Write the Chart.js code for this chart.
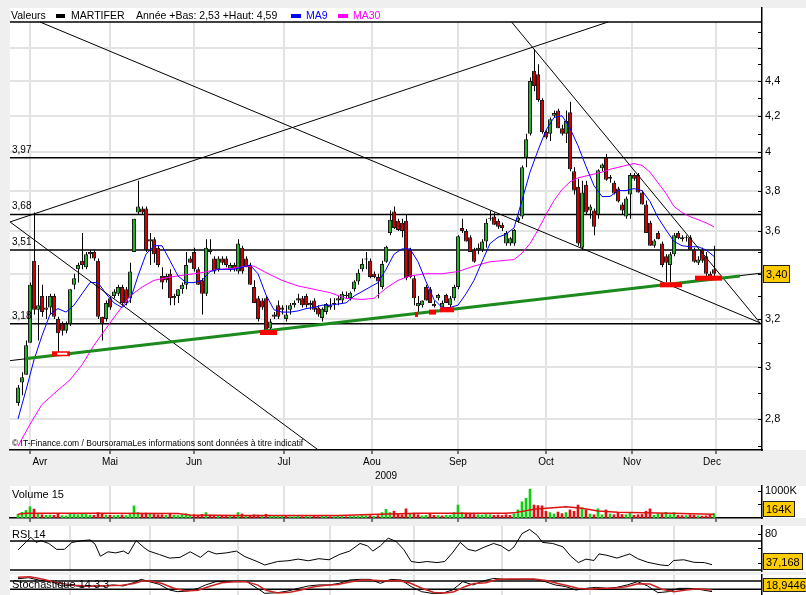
<!DOCTYPE html>
<html>
<head>
<meta charset="utf-8">
<script src="https://cdn.jsdelivr.net/npm/chart.js@4.4.1/dist/chart.umd.min.js"></script>
<style>
  html, body { margin: 0; padding: 0; background: #efefef; width: 806px; height: 595px; overflow: hidden; }
  canvas { position: absolute; left: 0; }
</style>
</head>
<body>
<canvas id="main" width="806" height="484" style="top:0px"></canvas>
<canvas id="vol" width="806" height="38" style="top:484px"></canvas>
<canvas id="rsi" width="806" height="50" style="top:522px"></canvas>
<canvas id="sto" width="806" height="24" style="top:572px"></canvas>
<script>
// --- données (séance i = jour de bourse depuis le 14 avril 2009) ---
const opens = [2.86,2.94,2.97,3.10,3.46,3.24,3.30,3.24,3.25,3.30,
  3.20,3.18,3.15,3.18,3.35,3.42,3.46,3.43,3.50,3.50,
  3.46,3.21,3.20,3.29,3.30,3.31,3.34,3.33,3.29,3.50,
  3.69,3.71,3.71,3.55,3.56,3.52,3.39,3.39,3.40,3.29,
  3.30,3.33,3.35,3.47,3.50,3.42,3.37,3.31,3.51,3.47,
  3.42,3.47,3.47,3.42,3.44,3.41,3.52,3.47,3.44,3.34,
  3.29,3.28,3.29,3.16,3.22,3.26,3.25,3.20,3.24,3.26,
  3.29,3.29,3.30,3.26,3.28,3.25,3.205,3.23,3.25,3.27,
  3.28,3.28,3.30,3.29,3.33,3.365,3.42,3.465,3.46,3.40,
  3.385,3.34,3.455,3.59,3.695,3.65,3.64,3.65,3.51,3.38,
  3.255,3.26,3.34,3.33,3.265,3.29,3.25,3.305,3.26,3.29,
  3.34,3.615,3.60,3.57,3.51,3.51,3.51,3.55,3.665,3.67,
  3.65,3.63,3.54,3.54,3.54,3.65,3.67,3.97,4.10,4.46,
  4.44,4.29,4.11,4.10,4.20,4.23,4.13,4.10,4.22,3.90,
  3.82,3.52,3.83,3.70,3.70,3.68,3.915,3.97,3.87,3.84,
  3.81,3.73,3.67,3.78,3.88,3.88,3.79,3.73,3.64,3.53,
  3.59,3.54,3.48,3.44,3.49,3.59,3.57,3.57,3.57,3.51,
  3.45,3.51,3.48,3.40,3.42];
const highs = [2.93,2.98,3.11,3.36,3.69,3.44,3.35,3.30,3.31,3.31,
  3.21,3.19,3.19,3.33,3.40,3.45,3.59,3.50,3.51,3.51,
  3.47,3.21,3.28,3.30,3.33,3.35,3.35,3.34,3.45,3.66,
  3.85,3.72,3.72,3.59,3.57,3.53,3.43,3.40,3.42,3.31,
  3.33,3.36,3.50,3.48,3.52,3.43,3.38,3.56,3.56,3.48,
  3.48,3.48,3.48,3.45,3.45,3.56,3.53,3.48,3.45,3.37,
  3.30,3.29,3.30,3.20,3.23,3.28,3.26,3.26,3.27,3.28,
  3.31,3.30,3.31,3.28,3.29,3.26,3.25,3.27,3.29,3.29,
  3.30,3.32,3.32,3.32,3.37,3.42,3.47,3.50,3.47,3.41,
  3.40,3.46,3.53,3.70,3.72,3.66,3.66,3.68,3.52,3.39,
  3.30,3.28,3.35,3.34,3.28,3.31,3.28,3.31,3.30,3.35,
  3.58,3.66,3.61,3.58,3.52,3.54,3.56,3.66,3.70,3.69,
  3.66,3.64,3.60,3.57,3.61,3.67,3.93,4.10,4.42,4.59,
  4.50,4.30,4.12,4.19,4.23,4.24,4.15,4.23,4.28,3.92,
  3.86,3.85,3.85,3.73,3.71,3.91,3.94,3.99,3.88,3.85,
  3.82,3.74,3.77,3.89,3.89,3.89,3.80,3.75,3.65,3.56,
  3.60,3.55,3.49,3.50,3.59,3.60,3.58,3.58,3.58,3.52,
  3.48,3.52,3.50,3.41,3.53];
const lows = [2.85,2.89,2.97,3.10,3.22,3.11,3.21,3.20,3.22,3.20,
  3.06,3.13,3.14,3.17,3.33,3.36,3.42,3.42,3.47,3.46,
  3.20,3.11,3.19,3.24,3.29,3.30,3.26,3.26,3.27,3.50,
  3.68,3.68,3.50,3.44,3.45,3.43,3.33,3.36,3.26,3.26,
  3.27,3.31,3.33,3.45,3.41,3.35,3.22,3.30,3.49,3.40,
  3.41,3.44,3.43,3.41,3.41,3.40,3.40,3.43,3.35,3.27,
  3.19,3.24,3.14,3.15,3.20,3.20,3.22,3.19,3.22,3.25,
  3.27,3.25,3.25,3.24,3.23,3.21,3.19,3.22,3.24,3.24,
  3.26,3.27,3.29,3.28,3.32,3.35,3.41,3.42,3.38,3.38,
  3.29,3.33,3.45,3.58,3.61,3.60,3.57,3.37,3.38,3.26,
  3.225,3.25,3.28,3.27,3.25,3.28,3.24,3.27,3.25,3.28,
  3.33,3.59,3.55,3.50,3.45,3.49,3.50,3.52,3.65,3.63,
  3.61,3.60,3.53,3.53,3.53,3.64,3.66,3.92,4.09,4.34,
  4.28,4.10,4.07,4.06,4.19,4.13,4.09,4.05,3.90,3.78,
  3.53,3.51,3.68,3.66,3.58,3.66,3.90,3.85,3.84,3.78,
  3.74,3.68,3.66,3.66,3.85,3.79,3.73,3.59,3.53,3.52,
  3.56,3.43,3.36,3.36,3.48,3.56,3.55,3.55,3.51,3.45,
  3.44,3.45,3.39,3.38,3.39];
const closes = [2.92,2.96,3.09,3.35,3.24,3.26,3.23,3.25,3.30,3.21,
  3.14,3.15,3.18,3.33,3.38,3.44,3.44,3.49,3.49,3.47,
  3.21,3.18,3.27,3.25,3.32,3.34,3.27,3.27,3.41,3.66,
  3.72,3.69,3.51,3.56,3.49,3.44,3.36,3.37,3.29,3.30,
  3.33,3.35,3.44,3.45,3.42,3.35,3.31,3.52,3.50,3.41,
  3.47,3.45,3.44,3.44,3.42,3.54,3.41,3.43,3.35,3.27,
  3.20,3.25,3.15,3.19,3.21,3.21,3.24,3.22,3.26,3.27,
  3.28,3.26,3.26,3.27,3.24,3.22,3.245,3.265,3.26,3.265,
  3.29,3.31,3.305,3.315,3.365,3.405,3.445,3.47,3.385,3.385,
  3.365,3.445,3.525,3.655,3.615,3.605,3.60,3.38,3.385,3.29,
  3.27,3.28,3.28,3.27,3.255,3.305,3.27,3.27,3.29,3.34,
  3.575,3.60,3.55,3.50,3.455,3.52,3.55,3.64,3.66,3.63,
  3.62,3.615,3.59,3.565,3.605,3.665,3.92,4.07,4.40,4.37,
  4.29,4.11,4.08,4.18,4.215,4.13,4.10,4.17,3.91,3.80,
  3.54,3.79,3.69,3.72,3.62,3.905,3.935,3.855,3.86,3.785,
  3.745,3.70,3.76,3.88,3.86,3.79,3.73,3.59,3.53,3.555,
  3.56,3.44,3.45,3.49,3.58,3.565,3.56,3.565,3.51,3.455,
  3.465,3.46,3.40,3.385,3.40];

const ma9Idx = [0,2,4,6,8,10,12,14,16,18,20,22,24,26,28,30,32,34,36,38,40,42,44,46,48,50,52,54,56,58,60,62,64,66,68,70,72,74,76,78,80,82,84,86,88,90,92,94,96,98,100,102,104,106,108,110,112,114,116,118,120,122,124,126,128,130,132,134,136,138,140,142,144,146,148,150,152,154,156,158,160,162,164,166,168,170,172,174];
const ma9Val = [2.80,2.91,3.03,3.13,3.22,3.245,3.23,3.26,3.31,3.36,3.36,3.31,3.27,3.25,3.28,3.39,3.49,3.53,3.53,3.46,3.39,3.36,3.36,3.37,3.41,3.42,3.42,3.42,3.43,3.44,3.40,3.305,3.24,3.23,3.23,3.235,3.245,3.25,3.26,3.26,3.265,3.27,3.30,3.32,3.34,3.36,3.42,3.49,3.515,3.515,3.455,3.365,3.285,3.25,3.25,3.26,3.31,3.37,3.455,3.54,3.57,3.585,3.615,3.75,3.895,4.01,4.12,4.19,4.20,4.13,4.035,3.925,3.825,3.77,3.77,3.80,3.80,3.81,3.80,3.745,3.665,3.605,3.55,3.53,3.525,3.525,3.51,3.48];
const ma30Idx = [0,3,6,10,13,16,19,22,25,28,31,34,38,42,46,50,54,57,59,62,66,70,74,78,82,86,89,92,95,98,102,106,110,114,118,121,124,126,128,130,132,134,136,138,140,142,144,146,148,150,152,154,156,158,160,162,164,166,168,170,172,174];
const ma30Val = [2.70,2.78,2.855,2.91,2.95,3.01,3.09,3.16,3.23,3.30,3.34,3.37,3.385,3.395,3.405,3.42,3.425,3.435,3.435,3.405,3.37,3.345,3.33,3.315,3.29,3.285,3.29,3.335,3.37,3.39,3.40,3.40,3.41,3.435,3.455,3.46,3.465,3.495,3.54,3.605,3.68,3.75,3.805,3.845,3.865,3.875,3.885,3.895,3.91,3.92,3.93,3.94,3.93,3.895,3.84,3.785,3.72,3.69,3.67,3.655,3.64,3.62];

const levels = [3.97, 3.68, 3.51, 3.18];
// droites tracées : [séance début, cours début, séance fin, cours fin]
const trendLines = [
  [5.5, 4.761, 185.5, 3.184],
  [-2, 3.644, 147.5, 4.761],
  [-2, 3.644, 75, 2.687],
  [123.4, 4.761, 185.5, 3.184],
  [-2, 3.027, 186, 3.403]
];
const supportLine = [1.75, 3.035, 180.5, 3.39];
// plus bas marqués : [séance début, séance fin, cours]
const swingLows = [[8.5, 13, 3.055], [60.5, 64.75, 3.143], [99.25, 100, 3.22], [102.75, 104.5, 3.23], [105.5, 109, 3.24], [160.5, 166, 3.35], [169.25, 176, 3.38]];

const volumes = [140,210,280,420,330,150,120,100,110,100,
  140,90,80,150,130,120,150,130,110,100,
  200,150,110,100,90,100,110,90,130,450,
  200,160,180,150,130,120,120,100,150,100,
  90,110,160,110,120,100,130,200,110,100,
  90,80,80,90,70,200,150,90,100,120,
  110,80,140,90,60,70,60,60,50,50,
  60,50,60,50,60,50,80,60,50,50,
  60,60,50,60,70,60,90,80,90,60,
  90,200,320,200,250,150,120,340,150,180,
  120,80,100,150,100,90,80,100,100,200,
  480,200,180,150,130,120,110,130,120,100,
  110,90,120,100,150,300,600,730,1070,480,
  460,450,250,200,150,220,160,200,300,250,
  480,380,300,150,120,340,120,300,150,120,
  180,130,120,200,100,120,130,250,340,100,
  160,150,210,120,200,100,90,90,120,100,
  80,70,80,120,164];
const volMaIdx = [0,2,20,40,43,55,80,90,100,122,124,129,137,141,145,150,163,174];
const volMaVal = [137,174,174,170,111,90,95,137,174,174,190,320,418,360,260,210,174,137];

const rsiIdx = [0,1.9,3.2,4.5,5.75,7.7,9.65,11.6,13.5,16.1,18,19.25,20.6,22.5,24.4,26.35,27.6,29.55,31.5,32.75,35.35,37.9,40.5,43.05,45.6,47.55,49.5,52.05,54.6,56.55,59.75,61.7,64.9,67.5,70.05,72.6,75.2,77.75,80.3,82.9,85.5,87.4,88.7,90.6,92.55,94.5,96.4,98.3,100.25,102.2,104.75,106.7,108.6,110.55,112.5,114.4,116.3,118.9,120.8,122.75,124,126,127.9,129.8,131.1,133.7,136.25,138.2,140.1,142,144,145.25,147.2,149.75,152.95,154.9,157.45,160.7,162.6,163.9,166.45,169,171.6,173.5];
const rsiVal = [57.4,68.0,75.2,68.0,70.4,66.5,58.4,58.4,68.0,70.4,71.4,65.7,48.8,55.0,53.5,56.0,52.1,70.4,60.8,56.0,51.2,46.3,47.3,55.0,47.3,56.0,52.1,53.5,56.0,48.8,41.6,36.8,41.6,42.6,44.9,42.6,45.5,44.0,51.2,56.0,66.5,63.2,56.0,63.2,73.8,69.4,58.4,41.6,40.1,41.6,40.1,41.6,53.5,68.0,58.4,56.0,60.8,66.5,63.2,56.0,61.8,80.1,85.9,77.7,68.0,66.5,61.8,48.8,40.1,44.9,43.0,52.1,50.2,46.3,52.1,45.5,40.5,36.8,35.8,43.0,44.0,40.5,40.1,37.168];
const rsiLevels = [70, 30];

const stoKIdx = [0,2.6,5.1,8.4,10.9,13.5,16,18.6,21.2,23.8,26.3,28.9,30.8,32.8,35.3,37.9,39.8,42.4,45,46.9,49.5,52,54.6,57.2,59.8,61.7,64.9,67.5,70,72.6,75.2,77.8,80.3,82.9,85.5,88,90.6,93.2,95.8,98.3,100.9,103.5,106,108.6,111.2,113.8,116.3,118.9,121.5,124,126.6,129.2,131.8,134.3,136.9,139.5,142,144.6,147.2,149.7,152.3,154.9,157.4,160,162.6,165.2,167.7,170.3,173.5];
const stoKVal = [81,86,75,67,46,49,43,46,46,51,46,62,78,67,54,26.5,18.5,21.7,34.5,51,67,67,67,67,34.5,10.4,13.6,21.7,34.5,46,51,51,58.6,75,78,78,58.6,78,75,43,18.5,10.4,10.4,26.5,67,51,70,82.7,78,78,78,78,67,51,43,26.5,34.5,39.4,34.5,39.4,51,67,46,13.6,18.5,34.5,34.5,29.7,18.9446];
const stoDIdx = [0,3,6,10,14,18,22,26,29,31,33,36,39,42,45,48,51,54,57,60,62,65,68,71,74,77,80,83,86,89,92,95,98,101,104,107,109,112,114,117,120,123,126,129,132,135,138,140,143,146,149,152,155,158,161,164,167,170,173.5];
const stoDVal = [88,90,80,60,50,45,47,50,58,70,70,58,35,22,25,45,62,67,67,50,25,12,16,28,42,50,53,65,75,74,70,72,60,35,15,12,18,45,58,62,78,80,80,80,72,58,45,35,30,35,35,42,57,55,30,18,26,32,27];
const stoLevels = [70, 30];

const priceTicks = [2.7,2.8,2.9,3,3.1,3.2,3.3,3.4,3.5,3.6,3.7,3.8,3.9,4,4.1,4.2,4.3,4.4,4.5,4.6,4.7];
const priceLabels = [2.8,3,3.2,3.4,3.6,3.8,4,4.2,4.4];
const priceGrid = [2.8,3,3.2,3.4,3.6,3.8,4,4.2,4.4,4.6];
const volTicks = [500, 1000];
const rsiTicks = [40, 60, 80];

const monthStarts = [13, 33, 55, 78, 99, 121, 143, 164];
const monthNames = ['Avr','Mai','Jun','Jul','Aou','Sep','Oct','Nov','Dec'];
const monthEdges = [-2, ...monthStarts, 183];

// --- mise en forme ---
const FONT = "'Liberation Sans', Arial, sans-serif";
const GRID = '#e3e3e3';
const UP = '#25b025', DOWN = '#d00000';
const X_MIN = -2, X_MAX = 186;
Chart.defaults.font.family = FONT;
Chart.defaults.color = '#000';

const near = (arr, v) => arr.some((p) => Math.abs(p - v) < 1e-6);
const comma = (v, d) => v.toFixed(d).replace('.', ',');
const pts = (xs, ys) => xs.map((x, i) => ({ x, y: ys[i] }));
const seg = (x1, y1, x2, y2) => [{ x: x1, y: y1 }, { x: x2, y: y2 }];
const isUp = closes.map((c, i) => c >= opens[i]);

function lineDs(data, color, width, order, extra) {
  return Object.assign({ type: 'line', data, borderColor: color, borderWidth: width,
    pointRadius: 0, fill: false, order }, extra || {});
}

function noPad(s) {
  s.paddingTop = 0; s.paddingBottom = 0; s.paddingLeft = 0; s.paddingRight = 0;
}

function monthAxis(height, border) {
  return {
    type: 'linear', min: X_MIN, max: X_MAX, offset: false, position: 'bottom',
    afterBuildTicks: (s) => { s.ticks = monthStarts.map((v) => ({ value: v })); },
    ticks: { display: false },
    grid: { color: GRID, lineWidth: 2, drawTicks: height > 0, tickLength: 4, tickColor: '#000', tickWidth: 1 },
    border: { display: border, color: '#000', width: 1.5 },
    afterFit: (s) => { s.height = height; noPad(s); }
  };
}

function rightAxis(extra) {
  return Object.assign({
    position: 'right',
    ticks: { padding: 3, autoSkip: false, font: { size: 11 }, color: '#000' },
    grid: { display: false, drawTicks: false },
    border: { display: true, color: '#000', width: 1.5 },
    afterFit: (s) => { s.width = 44; noPad(s); }
  }, extra);
}

function drawBox(ctx, x, cy, text, h) {
  ctx.font = '11px ' + FONT;
  const w = Math.round(ctx.measureText(text).width + 6);
  const top = Math.round(cy - h / 2);
  ctx.fillStyle = '#ffcc00';
  ctx.fillRect(x, top, w, h);
  ctx.strokeStyle = '#222';
  ctx.lineWidth = 1;
  ctx.strokeRect(x + 0.5, top + 0.5, w - 1, h - 1);
  ctx.fillStyle = '#000';
  ctx.textAlign = 'left';
  ctx.textBaseline = 'middle';
  ctx.fillText(text, x + 3, top + h / 2 + 1);
}

// fond gris, bande blanche (zone + colonne d'échelle), graduations rentrantes, étiquette et cartouche
const panel = {
  id: 'panel',
  beforeDraw(chart, args, o) {
    const { ctx, chartArea: a } = chart;
    ctx.save();
    ctx.fillStyle = '#efefef';
    ctx.fillRect(0, 0, chart.width, chart.height);
    ctx.fillStyle = '#fff';
    ctx.fillRect(a.left, a.top, chart.width - a.left, a.bottom - a.top);
    ctx.restore();
  },
  afterDraw(chart, args, o) {
    const { ctx, chartArea: a } = chart;
    const s = chart.scales.y;
    ctx.save();
    ctx.strokeStyle = '#000';
    ctx.lineWidth = 1;
    for (const t of s.ticks) {
      const y = Math.round(s.getPixelForValue(t.value)) + 0.5;
      if (y < a.top + (o.skipTop || 0)) continue;
      ctx.beginPath(); ctx.moveTo(a.right - 4, y); ctx.lineTo(a.right, y); ctx.stroke();
    }
    if (o.title) {
      ctx.font = '11px ' + FONT;
      ctx.fillStyle = '#000';
      ctx.textAlign = 'left';
      ctx.textBaseline = 'middle';
      ctx.fillText(o.title, a.left + 2, a.top + o.titleDy);
    }
    if (o.box) {
      const h = o.box.h;
      let cy = s.getPixelForValue(o.box.value);
      cy = Math.max(a.top + h / 2 + 1, Math.min(a.bottom - h / 2 - o.box.gap, cy));
      drawBox(ctx, a.right + 1, cy, o.box.text, h);
    }
    ctx.restore();
  }
};

// en-tête, niveaux et mention du graphique principal
const mainDeco = {
  id: 'mainDeco',
  beforeDatasetsDraw(chart) {
    const { ctx, chartArea: a } = chart;
    ctx.save();
    ctx.fillStyle = '#fff';
    ctx.fillRect(a.left, a.top, a.right - a.left - 1, 14);
    ctx.restore();
  },
  afterDraw(chart) {
    const { ctx, chartArea: a } = chart;
    const y = chart.scales.y;
    ctx.save();
    ctx.strokeStyle = '#000';
    ctx.lineWidth = 1.5;
    ctx.beginPath(); ctx.moveTo(a.left, a.top + 14); ctx.lineTo(a.right, a.top + 14); ctx.stroke();
    ctx.font = '10.5px ' + FONT;
    ctx.textBaseline = 'middle';
    ctx.textAlign = 'left';
    const ty = a.top + 8;
    ctx.fillStyle = '#000';
    ctx.fillText('Valeurs', 11, ty);
    ctx.fillRect(56, ty - 2, 9, 4);
    ctx.fillText('MARTIFER', 71, ty);
    ctx.fillText('Année +Bas: 2,53 +Haut: 4,59', 136, ty);
    ctx.fillStyle = '#0000ff';
    ctx.fillRect(291, ty - 2, 10, 4);
    ctx.fillText('MA9', 306, ty);
    ctx.fillStyle = '#ff00ff';
    ctx.fillRect(338, ty - 2, 10, 4);
    ctx.fillText('MA30', 353, ty);
    ctx.fillStyle = '#000';
    ctx.font = '10px ' + FONT;
    for (const l of levels) ctx.fillText(comma(l, 2), 12, y.getPixelForValue(l) - 8);
    ctx.font = '8.5px ' + FONT;
    ctx.fillText('\u00a9 IT-Finance.com / BoursoramaLes informations sont données à titre indicatif', 12, a.bottom - 6, 327);
    drawBox(ctx, a.right + 1, y.getPixelForValue(closes[closes.length - 1]), comma(closes[closes.length - 1], 2), 18);
    ctx.restore();
  }
};

const baseOpts = {
  responsive: false, animation: false, events: [],
  plugins: { legend: { display: false }, tooltip: { enabled: false } }
};

// --- graphique des cours ---
new Chart(document.getElementById('main'), {
  type: 'bar',
  data: {
    datasets: [
      ...swingLows.map((s) => lineDs(seg(s[0], s[2], s[1], s[2]), '#ff0000', 5, 0)),
      lineDs(seg(9.8, swingLows[0][2], 12.3, swingLows[0][2]), '#ffffff', 2, -1),
      lineDs(seg(...supportLine), '#1c8a1c', 3, 1),
      ...trendLines.map((t) => lineDs(seg(...t), '#000', 1, 2)),
      lineDs(pts(ma9Idx, ma9Val), '#0000ff', 1, 3),
      lineDs(pts(ma30Idx, ma30Val), '#ff00ff', 1, 3),
      {
        data: closes.map((c, i) => ({ x: i, y: [opens[i], c] })),
        backgroundColor: isUp.map((u) => (u ? UP : DOWN)),
        borderColor: '#1a1a1a', borderWidth: 1, borderSkipped: false, inflateAmount: 0,
        barThickness: 4, grouped: false, order: 5
      },
      {
        data: highs.map((h, i) => ({ x: i, y: [lows[i], h] })),
        xAxisID: 'xw',
        backgroundColor: '#000', borderWidth: 0, inflateAmount: 0,
        barThickness: 1, grouped: false, order: 6
      },
      ...levels.map((l) => lineDs(seg(X_MIN, l, X_MAX, l), '#000', 1.5, 7))
    ]
  },
  options: Object.assign({}, baseOpts, {
    layout: { padding: { left: 10, top: 8, right: 0, bottom: 0 } },
    plugins: Object.assign({}, baseOpts.plugins, { panel: { skipTop: 16 } }),
    scales: {
      x: monthAxis(4, true),
      // axe des mèches : décalé d'un demi-pixel pour les aligner sur le pixel
      xw: { type: 'linear', display: false, offset: false, min: X_MIN - 0.125, max: X_MAX - 0.125 },
      x2: {
        type: 'linear', min: X_MIN, max: X_MAX, offset: false, position: 'bottom', weight: 1,
        afterBuildTicks: (s) => {
          s.ticks = monthNames.map((_, i) => ({ value: (monthEdges[i] + monthEdges[i + 1]) / 2 }));
        },
        ticks: { autoSkip: false, maxRotation: 0, padding: 2, font: { size: 10 }, color: '#000',
          callback: (v, i) => monthNames[i] },
        grid: { display: false, drawTicks: false },
        border: { display: false },
        title: { display: true, text: '2009', font: { size: 10 }, color: '#000', padding: { top: 0, bottom: 2 } },
        afterFit: (s) => { s.height = 30; noPad(s); }
      },
      y: rightAxis({
        type: 'logarithmic', min: 2.686, max: 4.851, bounds: 'data',
        afterBuildTicks: (s) => { s.ticks = priceTicks.map((v) => ({ value: v })); },
        ticks: { padding: 3, autoSkip: false, font: { size: 11 }, color: '#000',
          callback: (v) => (near(priceLabels, v) ? comma(v, 1).replace(/,0$/, '') : '') },
        grid: { drawTicks: false, lineWidth: 2,
          color: (c) => (c.tick && near(priceGrid, c.tick.value) ? GRID : 'rgba(0,0,0,0)') }
      })
    }
  }),
  plugins: [panel, mainDeco]
});

// --- volumes ---
const volUp = closes.map((c, i) => i === 0 || c >= closes[i - 1]);
new Chart(document.getElementById('vol'), {
  type: 'bar',
  data: {
    datasets: [
      lineDs(pts(volMaIdx, volMaVal), '#dd1111', 1.5, 0),
      { data: volumes.map((v, i) => ({ x: i, y: v })),
        backgroundColor: volUp.map((u) => (u ? '#11cc11' : '#dd1111')),
        barThickness: 2, grouped: false, order: 1 }
    ]
  },
  options: Object.assign({}, baseOpts, {
    layout: { padding: { left: 10, top: 2, right: 0, bottom: 0 } },
    plugins: Object.assign({}, baseOpts.plugins, {
      panel: { title: 'Volume 15', titleDy: 9, box: { value: volumes[volumes.length - 1], text: volumes[volumes.length - 1] + 'K', h: 16, gap: 1 } }
    }),
    scales: {
      x: monthAxis(4, true),
      y: rightAxis({
        type: 'linear', min: 0, max: 1185,
        afterBuildTicks: (s) => { s.ticks = volTicks.map((v) => ({ value: v })); },
        ticks: { padding: 3, autoSkip: false, font: { size: 11 }, color: '#000',
          callback: (v) => (v === 1000 ? '1000K' : '') }
      })
    }
  }),
  plugins: [panel]
});

// --- RSI ---
new Chart(document.getElementById('rsi'), {
  type: 'line',
  data: {
    datasets: [
      lineDs(pts(rsiIdx, rsiVal), '#000', 1, 0),
      ...rsiLevels.map((l) => lineDs(seg(X_MIN, l, X_MAX, l), '#000', 1.5, 1))
    ]
  },
  options: Object.assign({}, baseOpts, {
    layout: { padding: { left: 10, top: 4, right: 0, bottom: 0 } },
    plugins: Object.assign({}, baseOpts.plugins, {
      panel: { title: 'RSI 14', titleDy: 9, box: { value: rsiVal[rsiVal.length - 1], text: comma(rsiVal[rsiVal.length - 1], 3), h: 17, gap: 2 } }
    }),
    scales: {
      x: monthAxis(0, false),
      y: rightAxis({
        type: 'linear', min: 27.1, max: 90.65,
        afterBuildTicks: (s) => { s.ticks = rsiTicks.map((v) => ({ value: v })); },
        ticks: { padding: 3, autoSkip: false, font: { size: 11 }, color: '#000',
          callback: (v) => (v === 80 ? '80' : '') }
      })
    }
  }),
  plugins: [panel]
});

// --- stochastique ---
new Chart(document.getElementById('sto'), {
  type: 'line',
  data: {
    datasets: [
      lineDs(pts(stoKIdx, stoKVal), '#000', 1, 1),
      lineDs(pts(stoDIdx, stoDVal), '#cc2222', 1.5, 0),
      ...stoLevels.map((l) => lineDs(seg(X_MIN, l, X_MAX, l), '#000', 1.5, 2))
    ]
  },
  options: Object.assign({}, baseOpts, {
    layout: { padding: { left: 10, top: 2.8, right: 0, bottom: 0.5 } },
    plugins: Object.assign({}, baseOpts.plugins, {
      panel: { title: 'Stochastique 14 3 3', titleDy: 10, box: { value: stoKVal[stoKVal.length - 1], text: comma(stoKVal[stoKVal.length - 1], 4), h: 14, gap: 4 } }
    }),
    scales: {
      x: monthAxis(0, false),
      y: rightAxis({
        type: 'linear', min: 0, max: 100,
        afterBuildTicks: (s) => { s.ticks = []; },
        ticks: { display: false }
      })
    }
  }),
  plugins: [panel]
});
</script>
</body>
</html>
